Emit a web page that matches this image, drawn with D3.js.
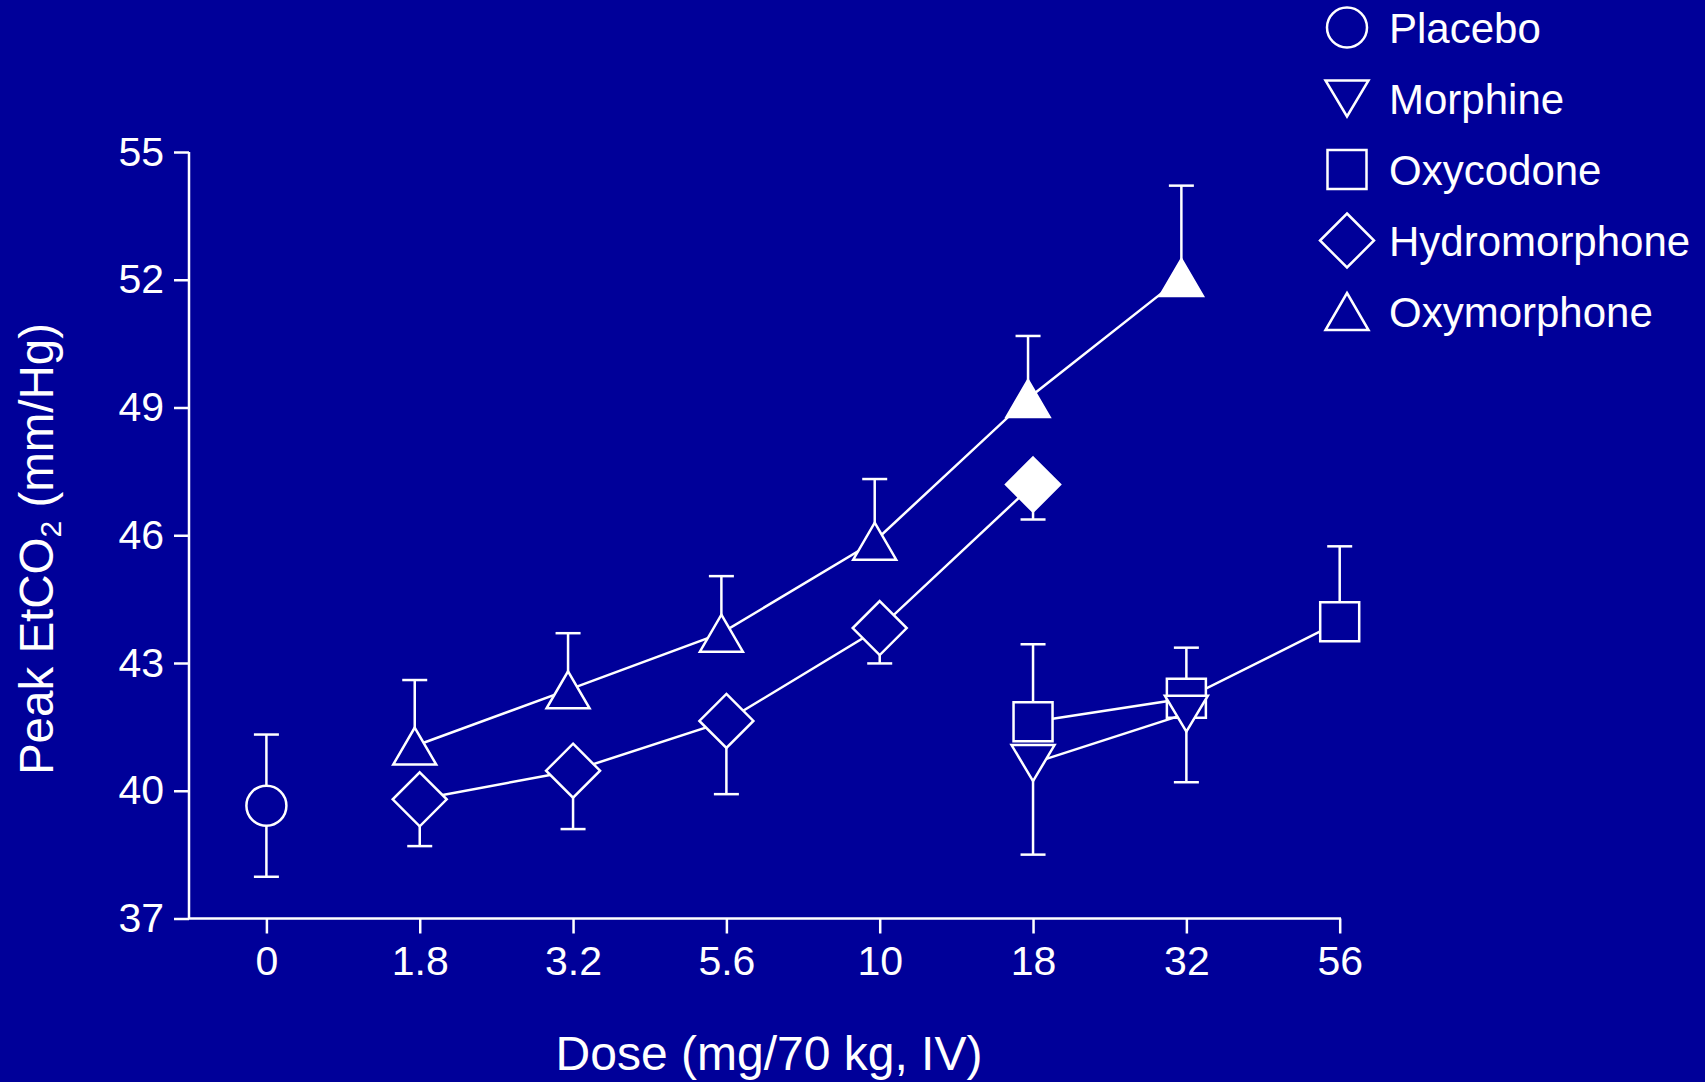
<!DOCTYPE html>
<html>
<head>
<meta charset="utf-8">
<script src="https://cdn.jsdelivr.net/npm/d3@7"></script>
<style>
  html, body { margin: 0; padding: 0; background: #000099; }
  svg { display: block; }
  text { font-family: "Liberation Sans", Arial, sans-serif; fill: #fff; }
</style>
</head>
<body>
<svg id="chart" width="1705" height="1082"></svg>
<script>
// ---- Data ----
const doses = ["0", "1.8", "3.2", "5.6", "10", "18", "32", "56"];
const yTicks = [37, 40, 43, 46, 49, 52, 55];

const seriesNames = ["Placebo", "Morphine", "Oxycodone", "Hydromorphone", "Oxymorphone"];

const placeboDoses = ["0"];
const placeboMeans = [39.65];
const placeboErr = [1.67];

const morphineDoses = ["18", "32"];
const morphineMeans = [40.65, 41.81];
const morphineErr = [2.15, 1.61];

const oxycodoneDoses = ["18", "32", "56"];
const oxycodoneMeans = [41.62, 42.17, 43.97];
const oxycodoneErr = [1.82, 1.19, 1.77];

const hydromorphoneDoses = ["1.8", "3.2", "5.6", "10", "18"];
const hydromorphoneMeans = [39.80, 40.47, 41.64, 43.82, 47.19];
const hydromorphoneErr = [1.10, 1.37, 1.72, 0.83, 0.82];
const hydromorphoneFilled = [false, false, false, false, true];

const oxymorphoneDoses = ["1.8", "3.2", "5.6", "10", "18", "32"];
const oxymorphoneMeans = [41.05, 42.37, 43.70, 45.86, 49.21, 52.05];
const oxymorphoneErr = [1.55, 1.33, 1.34, 1.46, 1.47, 2.16];
const oxymorphoneFilled = [false, false, false, false, true, true];

// ---- Styling / layout ----
const BG = "#000099";
const FG = "#ffffff";
const FONT = '"Liberation Sans", Arial, sans-serif';
const svg = d3.select("#chart");
svg.append("rect").attr("width", 1705).attr("height", 1082).attr("fill", BG);

const axisLeftX = 189, axisRightX = 1340;
const x = d3.scalePoint().domain(doses).range([266.4, 1339.7]);
const y = d3.scaleLinear().domain([37, 55]).range([918.5, 152]);

const shapes = {
  circle: () => { const p = d3.path(); p.arc(0, 0, 20, 0, Math.PI * 2); p.closePath(); return p.toString(); },
  triDown: () => "M-21.5,-18L21.5,-18L0,18Z",
  triUp: () => "M0,-18.5L21.5,18.5L-21.5,18.5Z",
  square: () => "M-19.5,-19.5H19.5V19.5H-19.5Z",
  diamond: () => "M0,-27L27,0L0,27L-27,0Z"
};

const series = [
  { name: "Placebo", doses: placeboDoses, means: placeboMeans, err: placeboErr, shape: "circle", dir: "both", dx: 0 },
  { name: "Oxycodone", doses: oxycodoneDoses, means: oxycodoneMeans, err: oxycodoneErr, shape: "square", dir: "up", dx: 0 },
  { name: "Morphine", doses: morphineDoses, means: morphineMeans, err: morphineErr, shape: "triDown", dir: "down", dx: 0 },
  { name: "Hydromorphone", doses: hydromorphoneDoses, means: hydromorphoneMeans, err: hydromorphoneErr, filled: hydromorphoneFilled, shape: "diamond", dir: "down", dx: 0 },
  { name: "Oxymorphone", doses: oxymorphoneDoses, means: oxymorphoneMeans, err: oxymorphoneErr, filled: oxymorphoneFilled, shape: "triUp", dir: "up", dx: -5 }
];

// ---- Axes ----
const yAxis = d3.axisLeft(y).tickValues(yTicks).tickSize(15).tickPadding(10).tickSizeOuter(0);
const gy = svg.append("g").attr("transform", `translate(${axisLeftX},0)`).call(yAxis);
gy.select(".domain").remove();
gy.append("line").attr("x1", 0).attr("x2", 0).attr("y1", y(55)).attr("y2", y(37))
  .attr("stroke", FG).attr("stroke-width", 2.5);
gy.selectAll(".tick line").attr("stroke", FG).attr("stroke-width", 2.5);
gy.selectAll(".tick text").attr("font-size", 41).attr("fill", FG).style("font-family", FONT);

const xAxis = d3.axisBottom(x).tickSize(15).tickPadding(12).tickSizeOuter(0);
const gx = svg.append("g").attr("transform", `translate(0,${y(37)})`).call(xAxis);
gx.select(".domain").remove();
gx.append("line").attr("x1", axisLeftX - 1).attr("x2", axisRightX + 1).attr("y1", 0).attr("y2", 0)
  .attr("stroke", FG).attr("stroke-width", 2.5);
gx.selectAll(".tick line").attr("stroke", FG).attr("stroke-width", 2.5);
gx.selectAll(".tick text").attr("font-size", 41).attr("fill", FG).style("font-family", FONT);

// Axis titles
svg.append("text").attr("x", 769).attr("y", 1070).attr("text-anchor", "middle")
  .attr("font-size", 48).text("Dose (mg/70 kg, IV)");

const yt = svg.append("text").attr("transform", "translate(53,549) rotate(-90)")
  .attr("text-anchor", "middle").attr("font-size", 47.5);
yt.append("tspan").text("Peak EtCO");
yt.append("tspan").attr("font-size", 30).attr("dy", 8).text("2");
yt.append("tspan").attr("dy", -8).text(" (mm/Hg)");

// ---- Series ----
const line = d3.line().x(d => d.x).y(d => d.y);
const cap = 12.5;

series.forEach(s => {
  const pts = s.doses.map((d, i) => ({
    x: x(d) + s.dx, y: y(s.means[i]), m: s.means[i], e: s.err[i],
    filled: s.filled ? s.filled[i] : false
  }));
  const g = svg.append("g");
  pts.forEach(p => {
    const ends = [];
    if (s.dir === "up" || s.dir === "both") ends.push(y(p.m + p.e));
    if (s.dir === "down" || s.dir === "both") ends.push(y(p.m - p.e));
    ends.forEach(ey => {
      g.append("line").attr("x1", p.x).attr("x2", p.x).attr("y1", p.y).attr("y2", ey)
        .attr("stroke", FG).attr("stroke-width", 2.5);
      g.append("line").attr("x1", p.x - cap).attr("x2", p.x + cap).attr("y1", ey).attr("y2", ey)
        .attr("stroke", FG).attr("stroke-width", 2.5);
    });
  });
  if (pts.length > 1) {
    g.append("path").attr("d", line(pts)).attr("fill", "none")
      .attr("stroke", FG).attr("stroke-width", 2.5);
  }
  g.selectAll("path.mk").data(pts).join("path").attr("class", "mk")
    .attr("transform", p => `translate(${p.x},${p.y})`)
    .attr("d", shapes[s.shape]())
    .attr("fill", p => p.filled ? FG : BG)
    .attr("stroke", FG).attr("stroke-width", 2.5).attr("stroke-linejoin", "miter");
});

// ---- Legend ----
const legendShapes = ["circle", "triDown", "square", "diamond", "triUp"];
const lg = svg.append("g");
seriesNames.forEach((n, i) => {
  const cy = 27.5 + i * 71;
  lg.append("path").attr("transform", `translate(1347,${cy})`).attr("d", shapes[legendShapes[i]]())
    .attr("fill", BG).attr("stroke", FG).attr("stroke-width", 2.5);
  lg.append("text").attr("x", 1389).attr("y", cy + 15).attr("font-size", 42).text(n);
});
</script>
</body>
</html>
